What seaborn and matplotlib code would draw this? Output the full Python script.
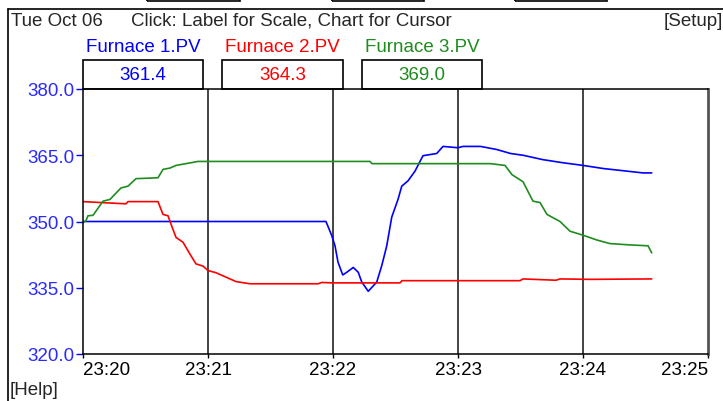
import pandas as pd
import seaborn as sns
import matplotlib
matplotlib.use("Agg")
import matplotlib.pyplot as plt
from matplotlib.patches import Rectangle
from matplotlib.lines import Line2D

# ------------------------------
# Data (minutes after 23:20)
# ------------------------------
f1_min = [0.0, 1.944, 1.99, 2.016, 2.04, 2.078, 2.11, 2.162, 2.202, 2.23, 2.282, 2.35,
          2.39, 2.43, 2.47, 2.52, 2.55, 2.60, 2.656, 2.696, 2.72, 2.83, 2.88, 3.0, 3.04,
          3.18, 3.31, 3.42, 3.52, 3.68, 3.84, 4.0, 4.16, 4.32, 4.48, 4.55]
f1_val = [350, 350, 346.8, 344.5, 340.8, 337.9, 338.5, 339.6, 338.5, 336.3, 334.2, 336.3,
          340, 344.5, 351, 355, 358, 359.2, 361.4, 363.6, 364.9, 365.4, 367, 366.7, 367,
          367, 366.3, 365.4, 365, 364, 363.3, 362.7, 362, 361.5, 361, 361]

f2_min = [0.0, 0.344, 0.36, 0.6, 0.64, 0.68, 0.704, 0.744, 0.8, 0.856, 0.904, 0.96, 1.0,
          1.064, 1.144, 1.224, 1.336, 1.88, 1.912, 1.992, 2.536, 2.552, 3.496, 3.52,
          3.784, 3.816, 4.056, 4.55]
f2_val = [354.5, 354.0, 354.5, 354.5, 351.6, 351.3, 349.4, 346.4, 345.3, 342.6, 340.4,
          339.9, 338.9, 338.4, 337.4, 336.4, 335.9, 335.9, 336.2, 336.1, 336.1, 336.6,
          336.6, 337.0, 336.7, 337.0, 336.9, 337.0]

f3_min = [0.0, 0.022, 0.04, 0.08, 0.16, 0.216, 0.304, 0.36, 0.424, 0.6, 0.64, 0.696,
          0.744, 0.824, 0.92, 2.296, 2.312, 3.256, 3.376, 3.432, 3.52, 3.6, 3.656, 3.712,
          3.816, 3.896, 4.0, 4.112, 4.216, 4.376, 4.52, 4.55]
f3_val = [349.8, 350.1, 351.3, 351.4, 354.6, 355, 357.6, 358, 359.7, 359.9, 361.8, 362.1,
          362.7, 363.1, 363.6, 363.6, 363.1, 363.1, 362.7, 360.6, 359, 354.6, 354.3, 351.6,
          350, 347.8, 346.9, 345.8, 345, 344.7, 344.5, 342.9]

tag_names = ["Furnace 1.PV", "Furnace 2.PV", "Furnace 3.PV"]
tag_values = ["361.4", "364.3", "369.0"]
tag_colors = ["#0000ff", "#ff0000", "#1e8c1e"]

y_ticks = [320, 335, 350, 365, 380]
x_ticks = [0, 1, 2, 3, 4, 5]
x_labels = ["23:20", "23:21", "23:22", "23:23", "23:24", "23:25"]

FS = 13.5

# ------------------------------
# Figure
# ------------------------------
sns.set_style("white")
plt.rcParams['font.family'] = ['Liberation Sans', 'DejaVu Sans']

W, H = 723, 402
fig = plt.figure(figsize=(W / 100, H / 100), dpi=100)
ax = fig.add_axes([83 / W, 1 - 355 / H, (708 - 83) / W, (355 - 90) / H])

series = [(f1_min, f1_val), (f2_min, f2_val), (f3_min, f3_val)]
for (t, v), c in zip(series, tag_colors):
    df = pd.DataFrame({"t": t, "v": v})
    sns.lineplot(data=df, x="t", y="v", color=c, linewidth=1.2, sort=False,
                 estimator=None, ax=ax)

ax.set_xlim(0, 5)
ax.set_ylim(320, 380)
ax.set_xticks(x_ticks)
ax.set_xticklabels(x_labels)
ax.set_yticks(y_ticks)
ax.set_yticklabels([f"{y:.1f}" for y in y_ticks])
ax.set_xlabel("")
ax.set_ylabel("")
for xv in x_ticks[1:-1]:
    ax.axvline(xv, color="#111111", linewidth=1.1, zorder=0)

ax.tick_params(axis="y", colors="#0000ff", labelsize=FS, length=5, width=1, pad=1,
               left=True)
ax.tick_params(axis="x", colors="black", labelsize=FS, length=3, width=1, pad=2,
               bottom=True)
for lab in ax.get_yticklabels():
    lab.set_color("#2a2aff")
xl = ax.get_xticklabels()
xl[0].set_horizontalalignment("left")
xl[-1].set_horizontalalignment("right")
for side in ["left", "top", "bottom"]:
    ax.spines[side].set_color("black")
    ax.spines[side].set_linewidth(1.1)
ax.spines["right"].set_color("#555555")
ax.spines["right"].set_linewidth(2)


def px(x, y):
    return x / W, 1 - y / H


# outer frame
fig.add_artist(Line2D([8 / W, 1], [1 - 10 / H] * 2, color="black", lw=1.2))
fig.add_artist(Line2D([8 / W] * 2, [0, 1 - 10 / H], color="black", lw=1.2))

# partial boxes at the very top
for x0, x1 in [(147, 240), (332, 424), (515, 607)]:
    fig.add_artist(Rectangle(px(x0, 2), (x1 - x0) / W, 10 / H, fill=False,
                             edgecolor="black", lw=1.2))

# header texts
fig.text(*px(11, 21), "Tue Oct 06", fontsize=FS, va="center", ha="left")
fig.text(*px(131, 21), "Click: Label for Scale, Chart for Cursor", fontsize=FS,
         va="center", ha="left")
fig.text(*px(723, 21), "[Setup]", fontsize=FS, va="center", ha="right")
fig.text(*px(10, 391), "[Help]", fontsize=FS, va="center", ha="left")

# tag legend boxes
box_x = [(83, 203), (222, 343), (362, 482)]
for (x0, x1), name, val, c in zip(box_x, tag_names, tag_values, tag_colors):
    fig.text(*px((x0 + x1) / 2, 48), name, color=c, fontsize=FS, ha="center",
             va="center")
    fig.add_artist(Rectangle(px(x0, 90), (x1 - x0) / W, 29 / H, fill=False,
                             edgecolor="black", lw=1.2))
    fig.text(*px((x0 + x1) / 2, 75), val, color=c, fontsize=FS, ha="center",
             va="center")

fig.savefig("out.png", dpi=100, facecolor="white")
